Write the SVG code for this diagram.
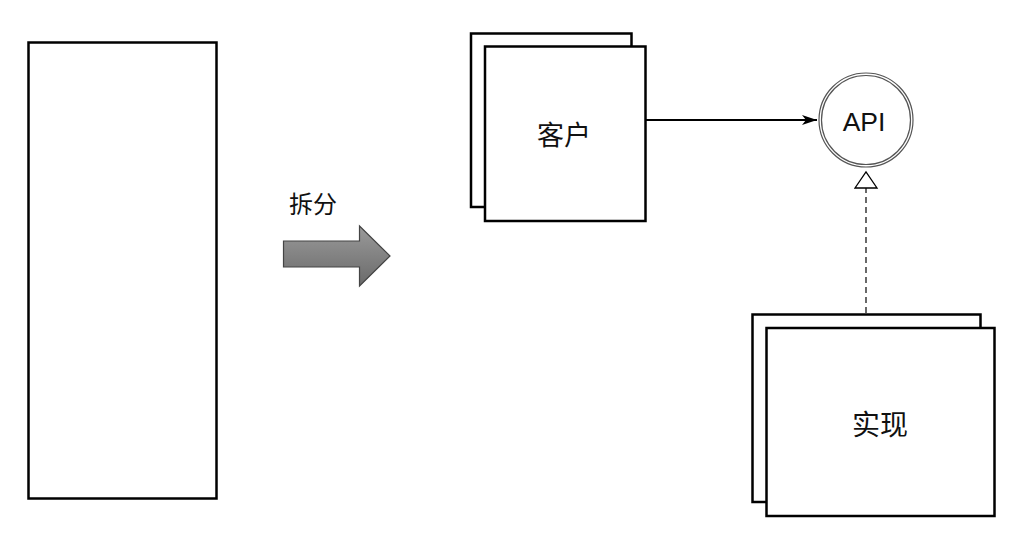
<svg xmlns="http://www.w3.org/2000/svg" width="1024" height="534" viewBox="0 0 1024 534">
<style>
.box{fill:#fff;stroke:#000;stroke-width:2.5}
.cjk{font-family:"Noto Sans CJK SC","Noto Sans",sans-serif;fill:#111;text-anchor:middle}
.lat{font-family:"Liberation Sans",Arial,sans-serif;fill:#111;text-anchor:middle}
</style>
<defs>
<linearGradient id="g" x1="0" y1="0" x2="0" y2="1">
<stop offset="0" stop-color="#9a9a9a"/>
<stop offset="1" stop-color="#6a6a6a"/>
</linearGradient>
<marker id="solid" markerWidth="16" markerHeight="12" refX="15" refY="6" orient="auto" markerUnits="userSpaceOnUse">
<path d="M0,1 L15,6 L0,11 L4,6 Z" fill="#000"/>
</marker>
<marker id="hollow" markerWidth="20" markerHeight="26" refX="17" refY="12" orient="auto" markerUnits="userSpaceOnUse">
<path d="M1,1 L17,12 L1,23 Z" fill="#fff" stroke="#000" stroke-width="1.3"/>
</marker>
</defs>
<rect width="1024" height="534" fill="#fff"/>
<g id="monolith">
<rect class="box" x="28.5" y="42.5" width="188" height="456"/>
</g>
<g id="split">
<text class="cjk" x="313" y="213" font-size="24">拆分</text>
<path d="M283.5,241 L359.5,241 L359.5,226 L390,256 L359.5,286 L359.5,267 L283.5,267 Z" fill="url(#g)" stroke="#444" stroke-width="1.2"/>
</g>
<g id="client">
<rect class="box" x="471" y="33.5" width="160.5" height="173.5"/>
<rect class="box" x="485" y="46.5" width="160.5" height="174.5"/>
<text class="cjk" x="564" y="145" font-size="27">客户</text>
</g>
<g id="api">
<circle cx="866" cy="120" r="47" fill="#fff" stroke="#555" stroke-width="1.2"/>
<circle cx="866" cy="120" r="44.5" fill="none" stroke="#555" stroke-width="1.2"/>
<text class="lat" x="864" y="131" font-size="26.5">API</text>
</g>
<g id="impl">
<rect class="box" x="752.5" y="314.5" width="228" height="187.5"/>
<rect class="box" x="766.5" y="328" width="228" height="188"/>
<text class="cjk" x="880" y="435" font-size="28">实现</text>
</g>
<g id="connectors">
<line x1="646" y1="120" x2="817" y2="120" stroke="#000" stroke-width="2" marker-end="url(#solid)"/>
<line x1="866" y1="313" x2="866" y2="172" stroke="#444" stroke-width="1.6" stroke-dasharray="6,4" marker-end="url(#hollow)"/>
</g>
</svg>
